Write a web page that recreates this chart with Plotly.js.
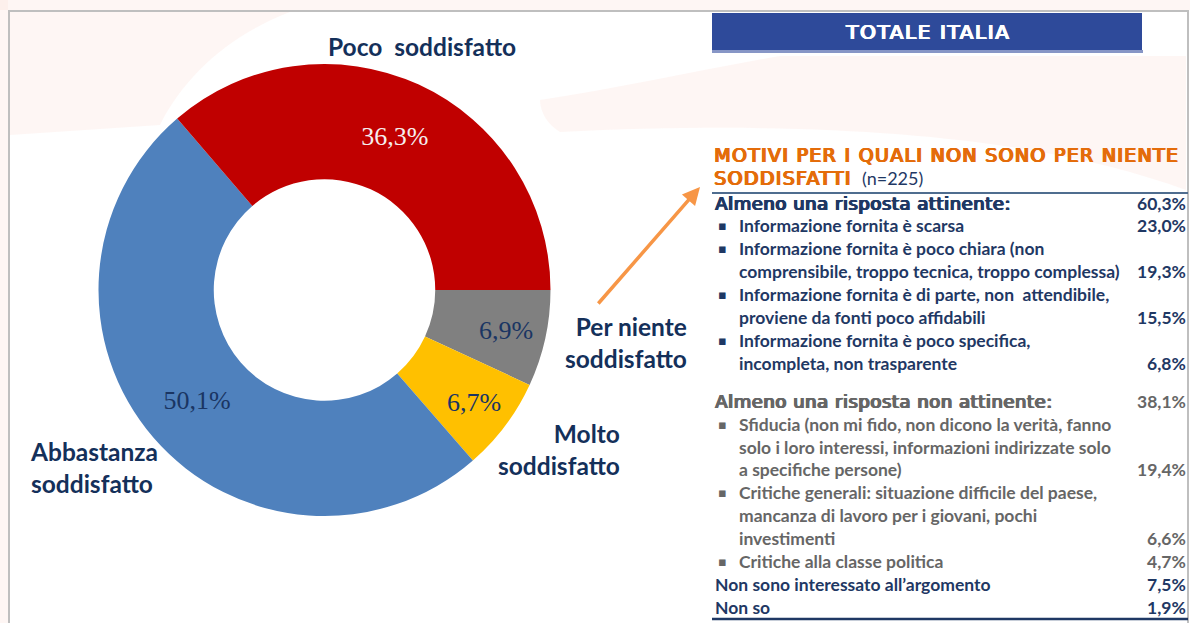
<!DOCTYPE html>
<html><head><meta charset="utf-8">
<script src="https://cdn.plot.ly/plotly-3.0.1.min.js"></script>
<style>html,body{margin:0;padding:0;background:#fff}#chart{width:1190px;height:623px}</style>
</head><body><div id="chart"></div>
<script>
// ---- donut data ----
const categories = ['Per niente soddisfatto', 'Molto soddisfatto', 'Abbastanza soddisfatto', 'Poco soddisfatto'];
const shares = [6.9, 6.7, 50.1, 36.3];
const categoryLabelLines = [['Per niente', 'soddisfatto'], ['Molto', 'soddisfatto'], ['Abbastanza', 'soddisfatto'], ['Poco  soddisfatto']];

// ---- table data ----
const panelTitle = 'TOTALE ITALIA';
const tableTitleLines = ['MOTIVI PER I QUALI NON SONO PER NIENTE', 'SODDISFATTI'];
const tableSample = '(n=225)';
const reasonLines = [
  ['Almeno una risposta attinente:'],
  ['Informazione fornita è scarsa'],
  ['Informazione fornita è poco chiara (non', 'comprensibile, troppo tecnica, troppo complessa)'],
  ['Informazione fornita è di parte, non  attendibile,', 'proviene da fonti poco affidabili'],
  ['Informazione fornita è poco specifica,', 'incompleta, non trasparente'],
  ['Almeno una risposta non attinente:'],
  ['Sfiducia (non mi fido, non dicono la verità, fanno', 'solo i loro interessi, informazioni indirizzate solo', 'a specifiche persone)'],
  ['Critiche generali: situazione difficile del paese,', 'mancanza di lavoro per i giovani, pochi', 'investimenti'],
  ['Critiche alla classe politica'],
  ['Non sono interessato all\u2019argomento'],
  ['Non so']
];
const reasonValues = [60.3, 23.0, 19.3, 15.5, 6.8, 38.1, 19.4, 6.6, 4.7, 7.5, 1.9];
const reasonGroup = ['attinente-tot', 'attinente', 'attinente', 'attinente', 'attinente',
  'non-attinente-tot', 'non-attinente', 'non-attinente', 'non-attinente', 'altro', 'altro'];

// ---- helpers ----
const W = 1190, H = 623;
const px = x => x / W;
const py = y => 1 - y / H;
const NAVY = '#1F3864';
const GREY = '#666666';
const fmt = v => v.toFixed(1).replace('.', ',') + '%';
const thick = c => `1.1px 0 0 ${c}, 0.55px 0 0 ${c}, -0.5px 0 0 ${c}, 0 0.35px 0 ${c}`;
const heavyFont = (size, color) => ({family: 'DejaVu Sans, Verdana, sans-serif', size: size, color: color, shadow: thick(color)});
const spaced = (t, ls) => '<span style="letter-spacing:' + ls + 'px">' + t + '</span>';

const trace = {
  type: 'pie',
  labels: categories,
  values: shares,
  hole: 0.49,
  sort: false,
  direction: 'clockwise',
  rotation: 90,
  marker: {colors: ['#808080', '#FFC000', '#4F81BD', '#C00000'], line: {width: 0}},
  texttemplate: '%{value:.1f}%',
  textposition: 'inside',
  insidetextorientation: 'horizontal',
  textfont: {family: 'Liberation Serif, DejaVu Serif, serif', size: 26,
             color: ['#1A3563', '#1A3563', '#1A3563', '#F5EEEE']},
  hoverinfo: 'label+percent',
  showlegend: false,
  domain: {x: [px(98.5), px(550.5)], y: [py(516), py(64)]}
};

const annotations = [];
const shapes = [];

// faint decorative background
const bg = 'rgba(252,228,220,0.32)';
const addBg = p => shapes.push({type: 'path', xref: 'paper', yref: 'paper', layer: 'below', line: {width: 0}, fillcolor: bg, path: p});
addBg(`M ${px(0)},${py(0)} L ${px(1190)},${py(0)} L ${px(1190)},${py(10)} L ${px(0)},${py(10)} Z`);
addBg(`M ${px(0)},${py(0)} L ${px(8)},${py(0)} L ${px(8)},${py(623)} L ${px(0)},${py(623)} Z`);
addBg(`M ${px(10)},${py(12)} L ${px(290)},${py(12)} C ${px(230)},${py(35)} ${px(185)},${py(75)} ${px(160)},${py(125)} L ${px(10)},${py(135)} Z`);
addBg(`M ${px(540)},${py(100)} C ${px(620)},${py(88)} ${px(700)},${py(70)} ${px(780)},${py(56)} L ${px(1186)},${py(56)} L ${px(1186)},${py(190)} C ${px(1050)},${py(140)} ${px(850)},${py(118)} ${px(560)},${py(132)} C ${px(548)},${py(125)} ${px(540)},${py(112)} ${px(540)},${py(100)} Z`);

// frame
shapes.push({type: 'rect', xref: 'paper', yref: 'paper', x0: px(9), x1: px(1188), y0: py(11), y1: py(660),
  line: {color: '#BFBFBF', width: 2}, fillcolor: 'rgba(0,0,0,0)'});

// category labels around the donut
const labelPos = [
  {x: 689, y: 342, xa: 'right', align: 'right'},
  {x: 622, y: 449, xa: 'right', align: 'right'},
  {x: 28, y: 467, xa: 'left', align: 'left'},
  {x: 422, y: 47, xa: 'center', align: 'center'}
];
categoryLabelLines.forEach((lines, i) => {
  const p = labelPos[i];
  annotations.push({xref: 'paper', yref: 'paper', x: px(p.x), y: py(p.y), xanchor: p.xa, yanchor: 'middle',
    align: p.align, showarrow: false, text: lines.map(l => '<b>' + l + '</b>').join('<br>'),
    font: {family: 'Lato, Noto Sans, sans-serif', size: 24.5, color: '#14305A'}});
});

// arrow
annotations.push({xref: 'paper', yref: 'paper', x: px(700), y: py(187), ax: 597 - 700, ay: 305 - 187,
  axref: 'pixel', ayref: 'pixel', text: '', showarrow: true, arrowhead: 2, arrowsize: 1, arrowwidth: 3.5,
  arrowcolor: '#F79646'});

// header box
shapes.push({type: 'rect', xref: 'paper', yref: 'paper', x0: px(712), x1: px(1143), y0: py(50), y1: py(53),
  line: {width: 0}, fillcolor: '#8796C6'});
shapes.push({type: 'rect', xref: 'paper', yref: 'paper', x0: px(712), x1: px(1142), y0: py(13), y1: py(50),
  line: {width: 0}, fillcolor: '#2E4A9A'});
annotations.push({xref: 'paper', yref: 'paper', x: px(927), y: py(32), xanchor: 'center', yanchor: 'middle',
  showarrow: false, text: spaced(panelTitle, 1.6), font: heavyFont(20, '#FFFFFF')});

// table title
annotations.push({xref: 'paper', yref: 'paper', x: px(712), y: py(155), xanchor: 'left', yanchor: 'middle',
  showarrow: false, text: spaced(tableTitleLines[0], 1.3), font: heavyFont(19, '#E46C0A')});
annotations.push({xref: 'paper', yref: 'paper', x: px(712), y: py(178), xanchor: 'left', yanchor: 'middle',
  showarrow: false, text: spaced(tableTitleLines[1], 1.3), font: heavyFont(19, '#E46C0A')});
annotations.push({xref: 'paper', yref: 'paper', x: px(860), y: py(178), xanchor: 'left', yanchor: 'middle',
  showarrow: false, text: tableSample, font: {family: 'Lato, sans-serif', size: 18, color: NAVY}});
shapes.push({type: 'line', xref: 'paper', yref: 'paper', x0: px(712), x1: px(1188), y0: py(193), y1: py(193),
  line: {color: '#4F6D8F', width: 2}});

// table rows
const lineStep = 22.9;
let lineIdx = 0;
reasonLines.forEach((lines, r) => {
  const g = reasonGroup[r];
  const isTot = g.endsWith('-tot');
  const isItem = g === 'attinente' || g === 'non-attinente';
  const color = g.startsWith('non-attinente') ? GREY : NAVY;
  const extra = (r >= 5) ? 15 : 0;
  lines.forEach((ln, k) => {
    const y = 203 + (lineIdx + k) * lineStep + extra;
    if (isItem && k === 0) {
      annotations.push({xref: 'paper', yref: 'paper', x: px(716), y: py(y), xanchor: 'left', yanchor: 'middle',
        showarrow: false, text: '\u25AA', font: {family: 'DejaVu Sans, sans-serif', size: 13, color: color}});
    }
    annotations.push({xref: 'paper', yref: 'paper', x: px(isItem ? 737 : 713), y: py(y), xanchor: 'left', yanchor: 'middle',
      showarrow: false, text: isTot ? spaced(ln, 0.55) : '<b>' + ln + '</b>',
      font: isTot ? heavyFont(18, color) : {family: 'Lato, sans-serif', size: 17.5, color: color}});
    if (k === lines.length - 1) {
      annotations.push({xref: 'paper', yref: 'paper', x: px(1188), y: py(y), xanchor: 'right', yanchor: 'middle',
        showarrow: false, text: '<b>' + fmt(reasonValues[r]) + '</b>',
        font: {family: 'Lato, sans-serif', size: 17.5, color: color}});
    }
  });
  lineIdx += lines.length;
});
shapes.push({type: 'line', xref: 'paper', yref: 'paper', x0: px(712), x1: px(1188), y0: py(619), y1: py(619),
  line: {color: NAVY, width: 2.5}});

const layout = {
  width: W, height: H,
  margin: {l: 0, r: 0, t: 0, b: 0},
  paper_bgcolor: '#FFFFFF',
  separators: ',.',
  showlegend: false,
  shapes: shapes,
  annotations: annotations
};
Plotly.newPlot('chart', [trace], layout, {displayModeBar: false, staticPlot: true});
</script>
</body></html>
